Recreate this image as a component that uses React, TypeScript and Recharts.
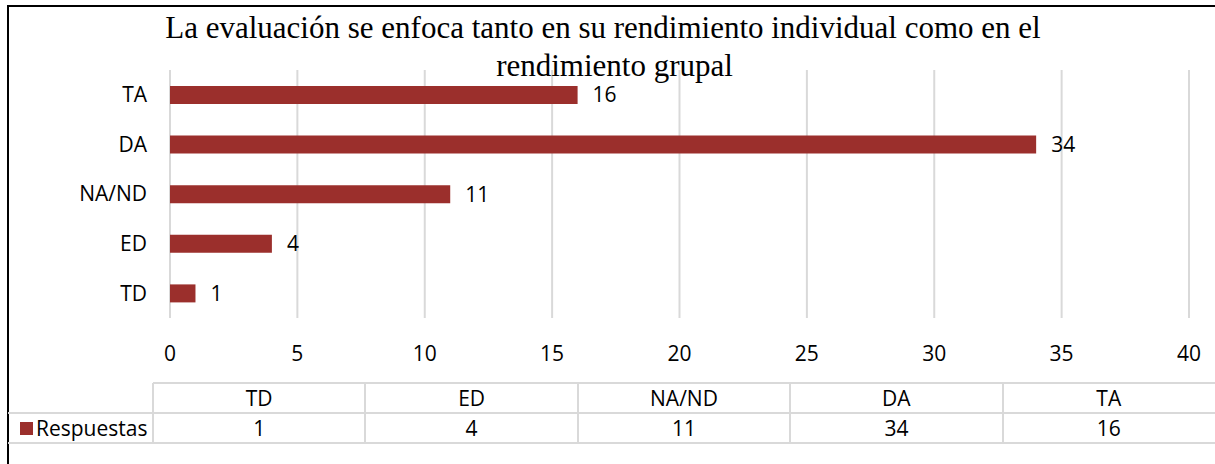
import { BarChart, Bar, XAxis, YAxis, CartesianGrid, LabelList } from 'recharts';

const categories = ['TD', 'ED', 'NA/ND', 'DA', 'TA'];
const respuestas = [1, 4, 11, 34, 16];
const xTicks = [0, 5, 10, 15, 20, 25, 30, 35, 40];
const seriesName = 'Respuestas';
const titleLine1 = 'La evaluación se enfoca tanto en su rendimiento individual como en el';
const titleLine2 = 'rendimiento grupal';

const BAR_COLOR = '#9b2f2c';
const GRID_COLOR = '#d9d9d9';
const SANS = '"Open Sans", sans-serif';
const SERIF = '"Liberation Serif", "Times New Roman", serif';
const FS = 21;

const chartData = categories.map((name, i) => ({ name, value: respuestas[i] }));

// data table under the chart
const TABLE_LEFT = 153;
const COL_W = (1215 - TABLE_LEFT) / categories.length;
const ROW_TOP = 383;
const ROW_H = 30;

function DataTable() {
    const line = (style: React.CSSProperties) => (
        <div style={{ position: 'absolute', background: GRID_COLOR, ...style }} />
    );
    const cell: React.CSSProperties = { position: 'absolute', width: COL_W, height: ROW_H, lineHeight: ROW_H + 'px', textAlign: 'center' };
    return (
        <>
            {line({ left: TABLE_LEFT, top: ROW_TOP - 1, width: 1215 - TABLE_LEFT, height: 2 })}
            {line({ left: 8, top: ROW_TOP + ROW_H - 1, width: 1207, height: 2 })}
            {line({ left: 8, top: ROW_TOP + 2 * ROW_H - 1, width: 1207, height: 2 })}
            {categories.map((c, i) => (
                <div key={c}>
                    {line({ left: TABLE_LEFT + i * COL_W - 1, top: ROW_TOP, width: 2, height: 2 * ROW_H })}
                    <div style={{ ...cell, left: TABLE_LEFT + i * COL_W, top: ROW_TOP }}>{c}</div>
                    <div style={{ ...cell, left: TABLE_LEFT + i * COL_W, top: ROW_TOP + ROW_H }}>{respuestas[i]}</div>
                </div>
            ))}
            <div style={{ position: 'absolute', left: 20, top: ROW_TOP + ROW_H + 9, width: 13, height: 13, background: BAR_COLOR }} />
            <div style={{ position: 'absolute', left: 36, top: ROW_TOP + ROW_H, height: ROW_H, lineHeight: ROW_H + 'px' }}>{seriesName}</div>
        </>
    );
}

export default function App() {
    return (
        <div style={{ position: 'fixed', left: 0, top: 0, width: 1215, height: 464, background: '#fff', overflow: 'hidden', fontFamily: SANS, fontSize: FS, color: '#000' }}>
            <div style={{ position: 'absolute', left: 7, top: 5, width: 1300, height: 600, borderTop: '2px solid #000', borderLeft: '2px solid #000' }} />

            <div style={{ position: 'absolute', left: 0, top: 0 }}>
                <BarChart
                    width={1215}
                    height={375}
                    data={chartData}
                    layout="vertical"
                    margin={{ top: 70, right: 26, bottom: 0, left: 0 }}
                >
                    <CartesianGrid horizontal={false} stroke={GRID_COLOR} strokeWidth={2} />
                    <XAxis
                        type="number"
                        domain={[0, 40]}
                        ticks={xTicks}
                        height={57}
                        axisLine={false}
                        tickLine={false}
                        tickMargin={22}
                        tick={{ fill: '#000', fontSize: FS, fontFamily: SANS }}
                    />
                    <YAxis
                        type="category"
                        dataKey="name"
                        reversed
                        width={170}
                        axisLine={false}
                        tickLine={false}
                        tickMargin={17}
                        tick={{ fill: '#000', fontSize: FS, fontFamily: SANS }}
                    />
                    <Bar dataKey="value" name={seriesName} fill={BAR_COLOR} barSize={18} isAnimationActive={false}>
                        <LabelList dataKey="value" position="right" offset={15} fill="#000" fontSize={FS} fontFamily={SANS} />
                    </Bar>
                </BarChart>
            </div>

            <div style={{ position: 'absolute', left: 0, width: 1206, top: 12, textAlign: 'center', fontFamily: SERIF, fontSize: 31, lineHeight: '31px', whiteSpace: 'nowrap' }}>{titleLine1}</div>
            <div style={{ position: 'absolute', left: 0, width: 1229, top: 50, textAlign: 'center', fontFamily: SERIF, fontSize: 31, lineHeight: '31px', whiteSpace: 'nowrap' }}>{titleLine2}</div>

            <DataTable />
        </div>
    );
}
